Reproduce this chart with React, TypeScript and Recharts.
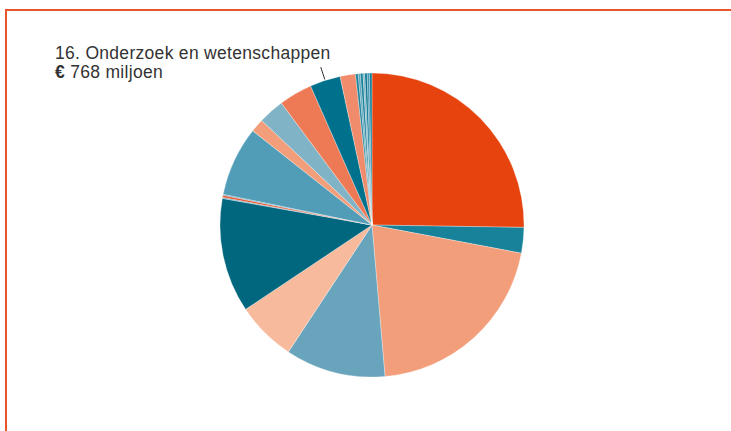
import React from 'react';
import { PieChart, Pie, Cell } from 'recharts';

// Begrotingsposten in miljoen euro (volgorde met de klok mee vanaf 12 uur)
const SLICE_NAMES = [
  'a', 'b', 'c', 'd', 'e', 'f', 'g', 'h', 'i', 'j', 'k', 'l', 'm',
  '16. Onderzoek en wetenschappen', 'o', 'p', 'q', 'r', 's', 't', 'u', 'v',
];
const SLICE_VALUES = [
  5967, 643, 4884, 2514, 1503, 2875, 26, 53, 26, 1746, 341, 650, 840,
  768, 387, 66, 53, 66, 46, 59, 53, 66,
];
const SLICE_COLORS = [
  '#E6430F', '#18829A', '#F39E7A', '#69A4BD', '#F8BA9C', '#00677F',
  '#5A9DB8', '#E8522A', '#5A9DB8', '#519CB7', '#F39E7A', '#80B3C6',
  '#EE7A55', '#00718C', '#F08B6B', '#1A8299', '#5BA3BB', '#1A8299',
  '#78B0C4', '#0A7491', '#3F93AF', '#18839C',
];

const LABEL_INDEX = 13;
const LABEL_TITLE = '16. Onderzoek en wetenschappen';
const LABEL_AMOUNT = '768 miljoen';

const data = SLICE_NAMES.map((name, i) => ({ name, value: SLICE_VALUES[i] }));

const RAD = Math.PI / 180;
const polar = (cx: number, cy: number, r: number, angle: number) => ({
  x: cx + Math.cos(-RAD * angle) * r,
  y: cy + Math.sin(-RAD * angle) * r,
});

const FONT = "'Liberation Sans', Arial, sans-serif";

const renderLabel = (props: any) => {
  const { cx, cy, midAngle, outerRadius, index } = props;
  if (index !== LABEL_INDEX) return null;
  const p1 = polar(cx, cy, outerRadius + 1, midAngle);
  const p2 = polar(cx, cy, outerRadius + 14, midAngle);
  return (
    <g>
      <line x1={p1.x} y1={p1.y} x2={p2.x} y2={p2.y} stroke="#333" strokeWidth={1} />
      <text x={55} y={58.5} fill="#333" fontSize={17.5} letterSpacing={0.3} fontFamily={FONT}>
        {LABEL_TITLE}
      </text>
      <text x={55} y={77.5} fill="#333" fontSize={17.5} letterSpacing={0.3} fontFamily={FONT}>
        <tspan fontWeight="bold">€</tspan> {LABEL_AMOUNT}
      </text>
    </g>
  );
};

export default function App() {
  return (
    <div style={{ position: 'absolute', left: 0, top: 0, width: 731, height: 431, background: '#fff', overflow: 'hidden' }}>
      <div
        style={{
          position: 'absolute', left: 5, top: 9, width: 760, height: 460,
          borderLeft: '2px solid #E8542A', borderTop: '2px solid #E8542A',
        }}
      />
      <div style={{ position: 'absolute', left: 0, top: 0 }}>
        <PieChart width={731} height={431} margin={{ top: 0, right: 0, bottom: 0, left: 0 }}>
          <Pie
            data={data}
            dataKey="value"
            nameKey="name"
            cx={372}
            cy={225}
            outerRadius={152}
            startAngle={90}
            endAngle={-270}
            stroke="#ffffff"
            strokeWidth={0.3}
            label={renderLabel}
            labelLine={false}
            isAnimationActive={false}
          >
            {data.map((_, i) => (
              <Cell key={`cell-${i}`} fill={SLICE_COLORS[i]} />
            ))}
          </Pie>
        </PieChart>
      </div>
    </div>
  );
}
